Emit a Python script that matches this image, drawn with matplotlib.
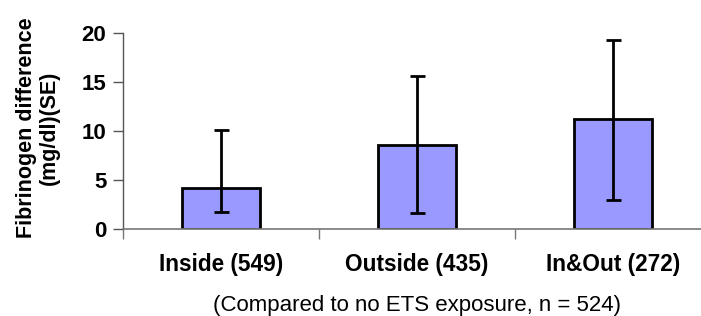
import matplotlib
matplotlib.use("Agg")
import matplotlib.pyplot as plt

# -----------------------------
# Data
# -----------------------------
categories = ["Inside (549)", "Outside (435)", "In&Out (272)"]
means = [4.2, 8.6, 11.2]
err_low = [1.7, 1.6, 3.0]     # lower end of error bar
err_high = [10.1, 15.6, 19.3]  # upper end of error bar

plt.rcParams["font.family"] = ["Liberation Sans", "DejaVu Sans"]

W, H = 701, 316
fig = plt.figure(figsize=(W / 100, H / 100), dpi=100)
ax = fig.add_axes([123 / W, (H - 229) / H, 588 / W, 196 / H])

x = list(range(len(categories)))
yerr = [
    [m - lo for m, lo in zip(means, err_low)],
    [hi - m for m, hi in zip(means, err_high)],
]

ax.bar(x, means, width=0.40, color="#9999FF", edgecolor="black", linewidth=2, zorder=2)
ax.errorbar(x, means, yerr=yerr, fmt="none", ecolor="black", elinewidth=2,
            capsize=5.4, capthick=2, zorder=3)

ax.set_xlim(-0.5, 2.5)
ax.set_ylim(0, 20)
ax.set_yticks([0, 5, 10, 15, 20])
ax.tick_params(axis="y", direction="out", length=7, width=1, color="#555555",
               labelsize=16, pad=5)
for lab in ax.get_yticklabels():
    lab.set_fontweight("bold")

ax.set_xticks(x)
ax.set_xticklabels(categories, fontsize=16.3, fontweight="bold")
ax.tick_params(axis="x", length=0, pad=17)
ax.set_xticks([-0.5, 0.5, 1.5, 2.5], minor=True)
ax.tick_params(axis="x", which="minor", direction="out", length=7, width=1, color="#777777")

for s in ["top", "right"]:
    ax.spines[s].set_visible(False)
ax.spines["left"].set_color("#555555")
ax.spines["bottom"].set_color("#777777")
ax.spines["left"].set_linewidth(1)
ax.spines["bottom"].set_linewidth(1.2)

ax.set_ylabel("Fibrinogen difference\n(mg/dl)(SE)", fontsize=15.5, fontweight="bold",
              linespacing=1.15)
ax.yaxis.set_label_coords(-0.107, 0.515)
ax.set_xlabel("(Compared to no ETS exposure, n = 524)", fontsize=16)
ax.xaxis.set_label_coords(0.5, -0.337)

fig.savefig("out.png", dpi=100)
